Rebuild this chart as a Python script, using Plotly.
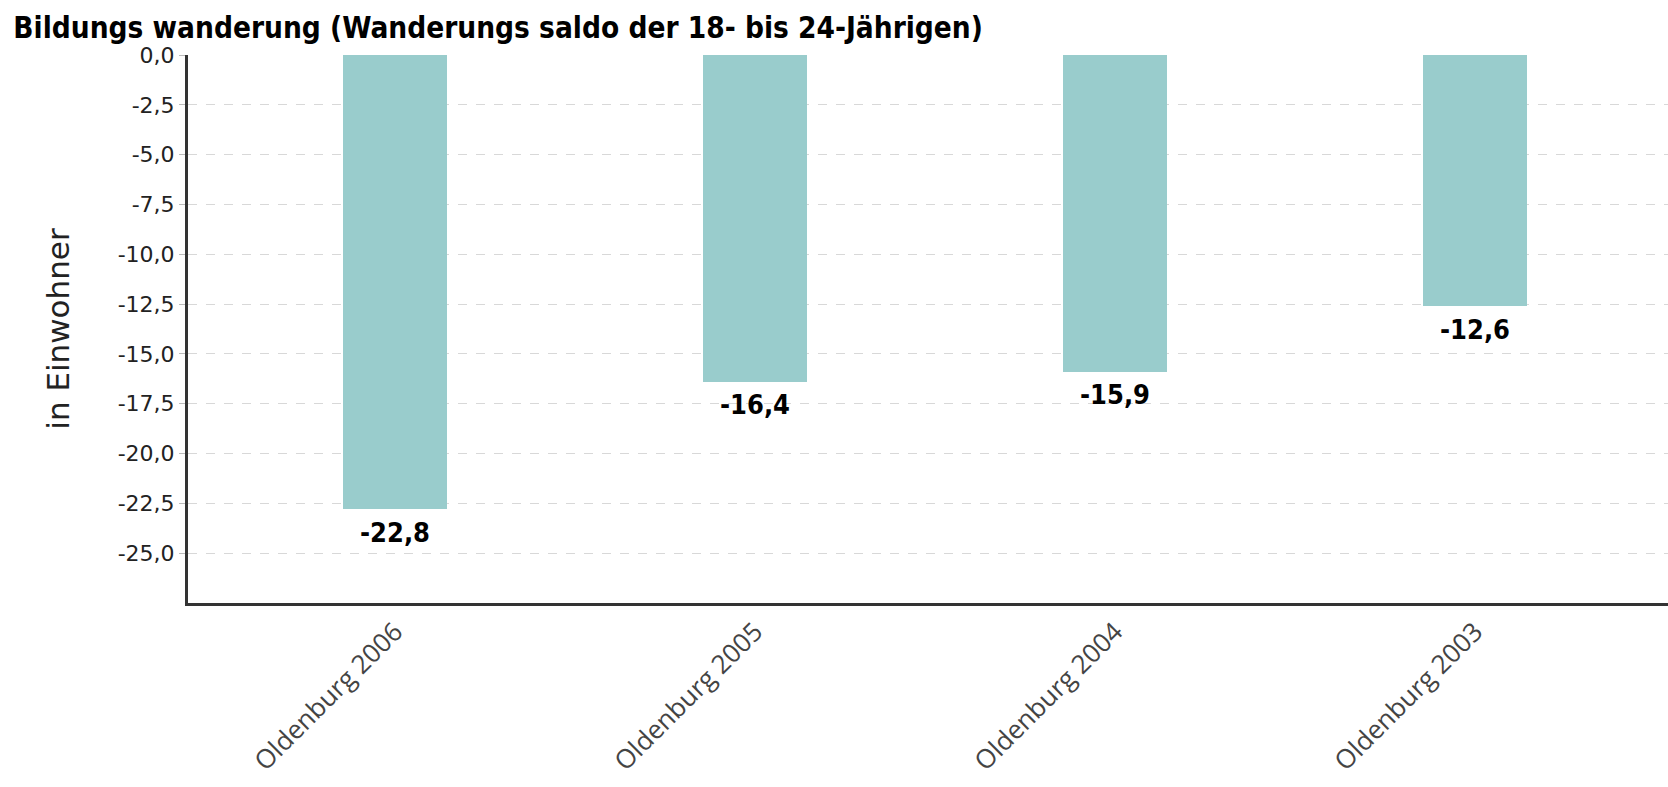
import plotly.graph_objects as go

categories = ["Oldenburg 2006", "Oldenburg 2005", "Oldenburg 2004", "Oldenburg 2003"]
values = [-22.8, -16.4, -15.9, -12.6]
y_tick_values = [0, -2.5, -5, -7.5, -10, -12.5, -15, -17.5, -20, -22.5, -25]
y_tick_labels = ["0,0", "-2,5", "-5,0", "-7,5", "-10,0", "-12,5", "-15,0", "-17,5", "-20,0", "-22,5", "-25,0"]
value_labels = [f"{v:.1f}".replace(".", ",") for v in values]

COND = "DejaVu Sans Condensed, Liberation Sans Narrow, DejaVu Sans"

fig = go.Figure()
fig.add_trace(go.Bar(
    x=categories,
    y=values,
    width=0.29,
    marker=dict(color="#99cccc", line=dict(width=0)),
))

for cat, val, lab in zip(categories, values, value_labels):
    fig.add_annotation(
        x=cat, y=val, text=lab, showarrow=False,
        xanchor="center", yanchor="middle", yshift=-23,
        font=dict(family=COND, size=27, color="#000000", weight="bold"),
    )

fig.update_layout(
    width=1668,
    height=787,
    paper_bgcolor="#ffffff",
    plot_bgcolor="#ffffff",
    margin=dict(l=188, r=0, t=55, b=184, autoexpand=False),
    showlegend=False,
    bargap=0,
    title=dict(
        text="Bildungs wanderung (Wanderungs saldo der 18- bis 24-Jährigen)",
        x=0.008, xref="container", xanchor="left",
        y=1 - 28 / 787, yref="container", yanchor="middle",
        font=dict(family=COND, size=29.5, color="#000000", weight="bold"),
    ),
    xaxis=dict(
        type="category",
        range=[-0.575, 3.536],
        showline=True, linecolor="#333333", linewidth=3,
        showgrid=False,
        ticks="", tickangle=-45,
        tickfont=dict(family="Open Sans", size=26, color="#444444"),
        zeroline=False,
    ),
    yaxis=dict(
        range=[-27.5, 0],
        tickmode="array", tickvals=y_tick_values, ticktext=y_tick_labels,
        showline=True, linecolor="#333333", linewidth=3,
        showgrid=True, gridcolor="#d8d8d8", griddash="dash", gridwidth=1,
        ticks="outside", ticklen=6, tickcolor="#bbbbbb",
        tickfont=dict(family="DejaVu Sans", size=22, color="#222222"),
        zeroline=False,
        title=dict(text="in Einwohner", font=dict(family="DejaVu Sans", size=31, color="#222222"),
                   standoff=39),
    ),
)

fig.write_html("out.html", config={"displayModeBar": False},
               post_script="document.body.style.margin='0';")
